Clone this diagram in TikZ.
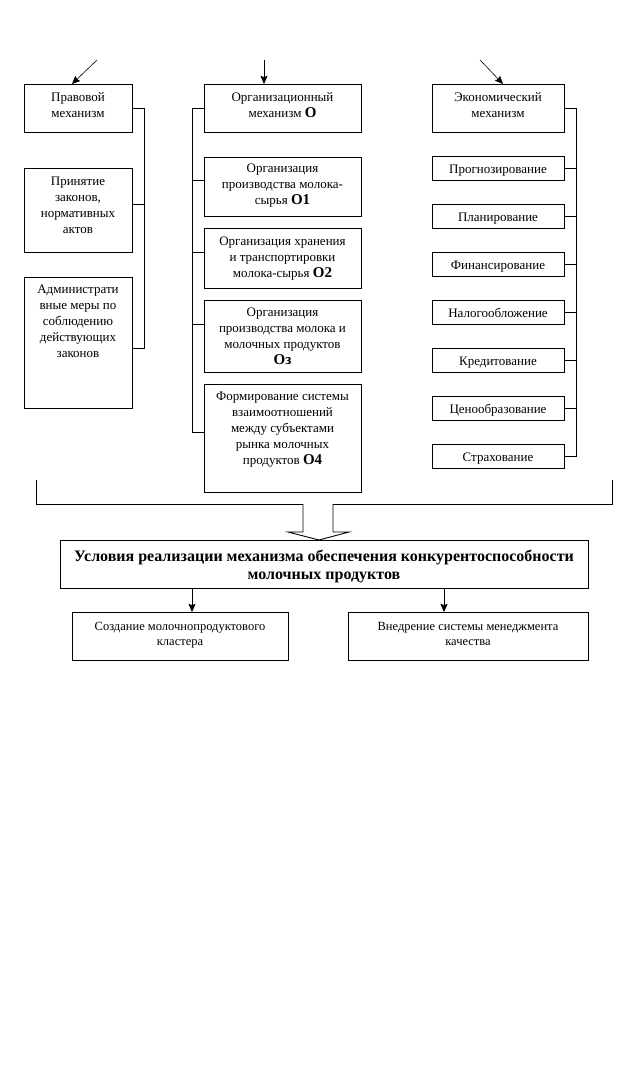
\documentclass[tikz,border=0pt]{standalone}
\usepackage{fontspec}
\setmainfont{Liberation Serif}
\usetikzlibrary{arrows.meta}
\newcommand\tbx[4]{\parbox[c][#2][t]{#1}{\centering\vspace*{#3}\strut #4}}
\newcommand\ob[1]{{\fontsize{15}{16}\selectfont\bfseries #1}}
\begin{document}
\begin{tikzpicture}[x=1pt,y=-1pt,
  box/.style={draw,line width=0.9pt,inner sep=0pt,outer sep=0pt,font=\fontsize{13}{16}\selectfont},
  ln/.style={line width=0.9pt},
  arr/.style={line width=0.9pt,-{Stealth[length=8pt,width=7pt,inset=1pt]}},
  thinarr/.style={line width=0.6pt,-{Stealth[length=8pt,width=7pt,inset=1pt]}}]
\fill[white] (0,0) rectangle (637,1081);
\useasboundingbox (0,0) rectangle (637,1081);
% left column
\node[box] (L0) at (78,108) {\tbx{108pt}{48pt}{6.5pt}{Правовой\\механизм}};
\node[box] (L1) at (78,210) {\tbx{108pt}{84pt}{6.5pt}{Принятие\\законов,\\нормативных\\актов}};
\node[box] (L2) at (78,342.5) {\tbx{108pt}{131pt}{5pt}{Администрати\\вные меры по\\соблюдению\\действующих\\законов}};
% middle column
\node[box] (M0) at (282.5,108) {\tbx{157pt}{48pt}{6.5pt}{Организационный\\механизм \ob{O}}};
\node[box] (M1) at (282.5,186.5) {\tbx{157pt}{59pt}{4.5pt}{Организация\\производства молока-\\сырья \ob{O1}}};
\node[box] (M2) at (282.5,258) {\tbx{157pt}{60pt}{6.5pt}{Организация хранения\\и транспортировки\\молока-сырья \ob{O2}}};
\node[box] (M3) at (282.5,336) {\tbx{157pt}{72pt}{5.5pt}{Организация\\производства молока и\\молочных продуктов\\\ob{Oз}}};
\node[box] (M4) at (282.5,438) {\tbx{157pt}{108pt}{5.5pt}{Формирование системы\\взаимоотношений\\между субъектами\\рынка молочных\\продуктов \ob{O4}}};
% right column
\node[box] (R0) at (498,108) {\tbx{132pt}{48pt}{6.5pt}{Экономический\\механизм}};
\node[box] (R1) at (498,168) {\tbx{132pt}{24pt}{6pt}{Прогнозирование}};
\node[box] (R2) at (498,216) {\tbx{132pt}{24pt}{6pt}{Планирование}};
\node[box] (R3) at (498,264) {\tbx{132pt}{24pt}{6pt}{Финансирование}};
\node[box] (R4) at (498,312) {\tbx{132pt}{24pt}{6pt}{Налогообложение}};
\node[box] (R5) at (498,360) {\tbx{132pt}{24pt}{6pt}{Кредитование}};
\node[box] (R6) at (498,408) {\tbx{132pt}{24pt}{6pt}{Ценообразование}};
\node[box] (R7) at (498,456) {\tbx{132pt}{24pt}{6pt}{Страхование}};
% bottom
\node[box,font=\fontsize{16}{18}\selectfont\bfseries] (C) at (324,564) {\tbx{528pt}{48pt}{8.5pt}{Условия реализации механизма обеспечения конкурентоспособности\\молочных продуктов}};
\node[box,font=\fontsize{12.5}{15}\selectfont] (B1) at (180,636) {\tbx{216pt}{48pt}{8pt}{Создание молочнопродуктового\\кластера}};
\node[box,font=\fontsize{12.5}{15}\selectfont] (B2) at (468,636) {\tbx{240pt}{48pt}{8pt}{Внедрение системы менеджмента\\качества}};
% top arrows
\coordinate (aL) at (97,60);
\coordinate (aM) at (264,60);
\coordinate (aR) at (480,60);
\draw[thinarr] (aL) -- ([xshift=-6pt]L0.north);
\draw[arr] (aM) -- ([xshift=-18.5pt]M0.north);
\draw[thinarr] (aR) -- ([xshift=5pt]R0.north);
% left bracket
\draw[ln] (L0.east) -- (144,108) -- (144,348) -- ([yshift=-5.5pt]L2.east);
\draw[ln] ([yshift=6pt]L1.east) -- (144,204);
% middle bracket
\draw[ln] (M0.west) -- (192,108) -- (192,432) -- ([yshift=6pt]M4.west);
\draw[ln] ([yshift=6.5pt]M1.west) -- (192,180);
\draw[ln] ([yshift=6pt]M2.west) -- (192,252);
\draw[ln] ([yshift=12pt]M3.west) -- (192,324);
% right bracket
\draw[ln] (R0.east) -- (576,108) -- (576,456) -- (R7.east);
\foreach \n in {R1,R2,R3,R4,R5,R6}{\draw[ln] (\n.east) -- (\n.east -| 576,0);}
% big bracket and hollow arrow
\coordinate (bl) at (36,480);
\coordinate (br) at (612,480);
\draw[ln] (bl) -- (36,504) -- (612,504) -- (br);
\draw[ln,fill=white] (303,504) -- (303,532) -- (288,532) -- (C.north -| 319,0) -- (349,532) -- (333,532) -- (333,504);
% bottom arrows
\draw[arr] (C.south -| 192,0) -- (B1.north -| 192,0);
\draw[arr] (C.south -| 444,0) -- (B2.north -| 444,0);
\end{tikzpicture}
\end{document}
